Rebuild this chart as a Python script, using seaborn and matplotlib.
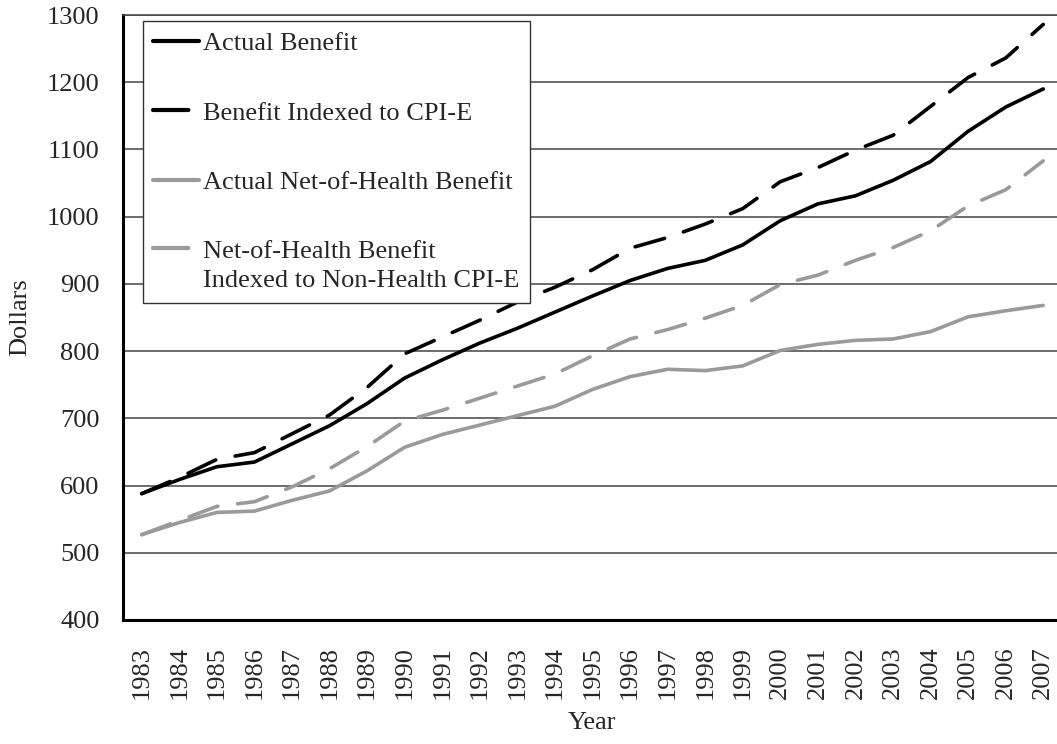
import pandas as pd
import matplotlib
matplotlib.use("Agg")
import matplotlib.pyplot as plt
import seaborn as sns
from matplotlib.legend_handler import HandlerLine2D


# =========================================
# DATA
# =========================================

years = list(range(1983, 2008))

actual_benefit = [588, 609, 628, 635, 662, 689, 722, 760, 787, 812, 834, 858,
                  882, 905, 923, 935, 958, 994, 1019, 1031, 1054, 1082, 1127,
                  1163, 1190]

benefit_cpie = [588, 612, 639, 649, 677, 705, 746, 796, 821, 846, 873, 895,
                921, 953, 969, 989, 1012, 1052, 1073, 1099, 1121, 1164, 1207,
                1236, 1286]

net_actual = [527, 545, 560, 562, 578, 592, 622, 657, 676, 690, 704, 718,
              743, 762, 773, 771, 778, 801, 810, 816, 818, 829, 851, 860, 868]

net_indexed = [527, 548, 569, 576, 598, 625, 658, 696, 712, 730, 748, 766,
               793, 818, 832, 849, 868, 899, 913, 935, 954, 979, 1016, 1040,
               1083]

labels = ["Actual Benefit",
          "Benefit Indexed to CPI-E",
          "Actual Net-of-Health Benefit",
          "Net-of-Health Benefit\nIndexed to Non-Health CPI-E"]


# =========================================
# CHART STYLE
# =========================================

sns.set_style("white")
plt.rcParams["font.family"] = ["Liberation Serif", "DejaVu Serif"]

FS = 19
GRAY = "#9a9a9a"
LW = 2.6
DASH = (8.5, 5.5)


class RaisedLine(HandlerLine2D):
    # put the handle next to the first line of a two-line label
    def create_artists(self, legend, orig_handle, xdescent, ydescent,
                       width, height, fontsize, trans):
        arts = super().create_artists(legend, orig_handle, xdescent, ydescent,
                                      width, height, fontsize, trans)
        for a in arts:
            a.set_ydata([y + 0.68 * fontsize for y in a.get_ydata()])
        return arts


fig = plt.figure(figsize=(10.57, 7.44), dpi=100)
ax = fig.add_axes([123 / 1057, 124 / 744, 939 / 1057, 605 / 744])

series = [
    (actual_benefit, "black", "solid"),
    (benefit_cpie, "black", "dashed"),
    (net_actual, GRAY, "solid"),
    (net_indexed, GRAY, "dashed"),
]

handles = []
for (vals, color, style), lab in zip(series, labels):
    sns.lineplot(x=years, y=vals, ax=ax, color=color, linewidth=LW,
                 solid_capstyle="round", dash_capstyle="round",
                 label=lab)
    line = ax.lines[-1]
    if style == "dashed":
        line.set_dashes(DASH)
    handles.append(line)

ax.set_xlim(1982.5, 2007.5)
ax.set_ylim(400, 1300)
ax.set_yticks(range(400, 1301, 100))
ax.set_xticks(years)
ax.set_xticklabels([str(y) for y in years], rotation=90, fontsize=FS)
ax.tick_params(axis="y", labelsize=FS, length=0, pad=17)
ax.tick_params(axis="x", length=0, pad=19)

ax.yaxis.grid(True, color="#444444", linewidth=1.1)
ax.xaxis.grid(False)

for side in ["left", "bottom"]:
    ax.spines[side].set_color("black")
    ax.spines[side].set_linewidth(2.2)
ax.spines["top"].set_color("#444444")
ax.spines["top"].set_linewidth(1.1)
ax.spines["right"].set_visible(False)

ax.set_xlabel("Year", fontsize=FS, labelpad=9)
ax.set_ylabel("Dollars", fontsize=FS, labelpad=11)

leg = ax.legend(
    handles=handles, labels=labels,
    handler_map={handles[3]: RaisedLine()},
    loc="upper left", bbox_to_anchor=(0.021, 0.99),
    fontsize=FS, frameon=True, fancybox=False,
    edgecolor="#333333", framealpha=1,
    handlelength=1.75, handletextpad=0.15,
    labelspacing=1.75, borderpad=0.4, borderaxespad=0.0,
)
leg.get_frame().set_linewidth(1.0)
for lh in leg.get_lines():
    lh.set_linewidth(LW + 0.4)
for t in leg.get_texts():
    t.set_linespacing(1.45)

plt.savefig("out.png", dpi=100)
